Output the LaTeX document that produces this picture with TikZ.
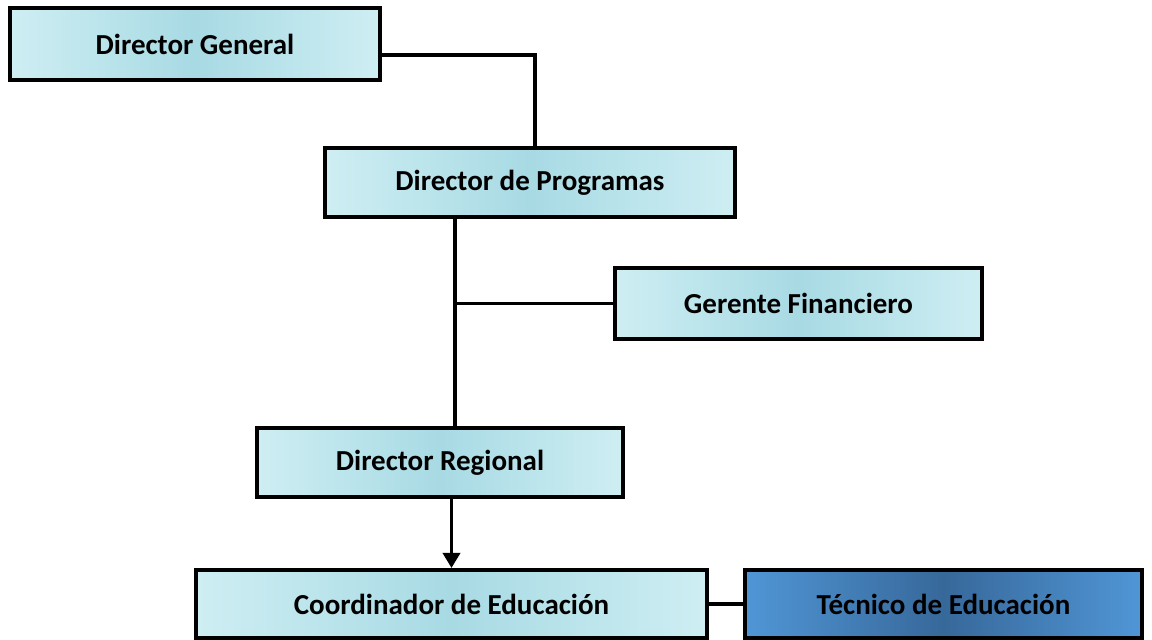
\documentclass[tikz,border=0pt]{standalone}
\usepackage{fontspec}
\setmainfont{Carlito}
\usepackage{tikz}
\usetikzlibrary{arrows.meta}
\definecolor{agua}{RGB}{168,218,228}
\definecolor{aguaclaro}{RGB}{206,238,243}
\definecolor{azulclaro}{RGB}{80,150,214}
\definecolor{azuloscuro}{RGB}{55,104,154}
\tikzstyle{puesto}=[draw, line width=2.3pt, inner sep=0pt, minimum height=1.38cm,
    left color=aguaclaro, right color=aguaclaro, middle color=agua,
    font=\fontsize{16.5}{19}\selectfont\bfseries]
\tikzstyle{tecnico}=[puesto, left color=azulclaro, right color=azulclaro, middle color=azuloscuro]
\tikzstyle{linea}=[line width=2pt]
\newcommand{\puesto}{\node[puesto]}

\begin{document}
\begin{tikzpicture}
            \useasboundingbox (0,0) rectangle (23.04,-12.78);
            \puesto (dg) at (3.9,-0.88) [minimum width=7.4cm, minimum height=1.44cm]{Director General};
            \puesto (dp) at (10.6,-3.65) [minimum width=8.2cm]{Director de Programas};
            \puesto (gf) at (15.97,-6.07) [minimum width=7.34cm, minimum height=1.42cm]{Gerente Financiero};
            \puesto (dr) at (8.8,-9.25) [minimum width=7.32cm]{Director Regional};
            \puesto (co) at (9.03,-12.08) [minimum width=10.22cm, minimum height=1.36cm]{Coordinador de Educación};
            \node[tecnico] (te) at (18.87,-12.08) [minimum width=7.94cm, minimum height=1.36cm]{Técnico de Educación};
            \path (dr.north) ++(0.3,0) coordinate (tronco);
            \path (dp.north) ++(0.1,0) coordinate (baja);
            \draw[linea] ([yshift=-0.22cm]dg.east) -| (baja);
            \draw[linea] (tronco |- dp.south) -- (tronco);
            \draw[linea] (tronco |- gf.west) -- (gf.west);
            \draw[linea, -{Triangle[length=0.3cm, width=0.34cm]}] (co.north |- dr.south) -- (co.north);
            \draw[linea] (co.east) -- (te.west);
        \end{tikzpicture}
\end{document}
